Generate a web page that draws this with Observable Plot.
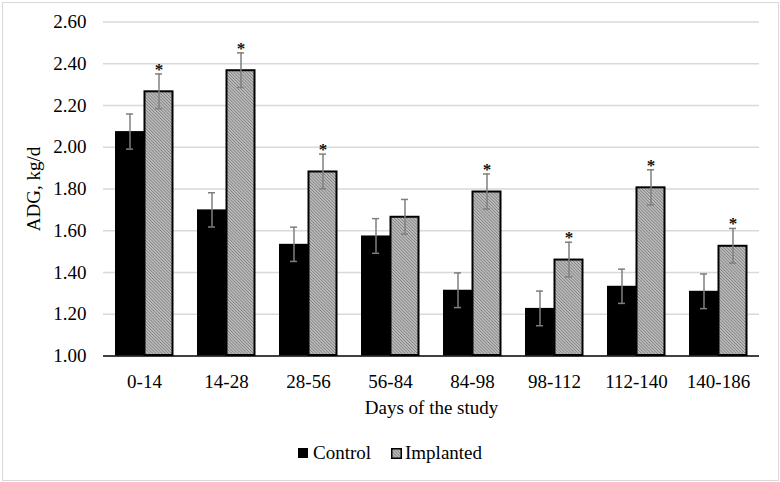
<!DOCTYPE html>
<html>
<head>
<meta charset="utf-8">
<script src="https://cdn.jsdelivr.net/npm/d3@7"></script>
<script src="https://cdn.jsdelivr.net/npm/@observablehq/plot@0.6"></script>
<style>
  html, body { margin: 0; padding: 0; background: #ffffff; }
  #wrap { position: relative; width: 780px; height: 482px; overflow: hidden; font-family: "Liberation Serif", "Times New Roman", serif; }
  #border { position: absolute; left: 2px; top: 2px; width: 775px; height: 477px; border: 1px solid #d9d9d9; pointer-events: none; }
  #legend { position: absolute; left: 0; top: 440px; width: 780px; height: 26px; display: flex; justify-content: center; align-items: center; font-size: 19px; color: #000; }
  #legend .item { display: flex; align-items: center; }
  #legend .sw { width: 10px; height: 10px; margin-right: 5px; display: block; }
</style>
</head>
<body>
<div id="wrap">
  <div id="chart"></div>
  <div id="legend">
    <div class="item"><span class="sw" style="background:#000"></span><span>Control</span></div>
    <div class="item" style="margin-left:20px">
      <svg class="sw" width="11" height="11" viewBox="0 0 11 11" style="width:11px;height:11px;margin-right:3px">
        <defs>
          <pattern id="hatchLeg" width="2.2" height="2.2" patternUnits="userSpaceOnUse" patternTransform="rotate(-45)">
            <rect width="2.2" height="2.2" fill="#c2c2c2"></rect>
            <rect width="0.9" height="2.2" fill="#808080"></rect>
          </pattern>
        </defs>
        <rect x="0.75" y="0.75" width="9.5" height="9.5" fill="url(#hatchLeg)" stroke="#000" stroke-width="1.5"></rect>
      </svg>
      <span>Implanted</span>
    </div>
  </div>
  <div id="border"></div>
</div>
<script>
const categories = ["0-14", "14-28", "28-56", "56-84", "84-98", "98-112", "112-140", "140-186"];
const series = ["Control", "Implanted"];
const control = [2.075, 1.700, 1.535, 1.575, 1.315, 1.228, 1.334, 1.310];
const implanted = [2.268, 2.369, 1.884, 1.667, 1.788, 1.462, 1.808, 1.528];
const controlSE = [0.084, 0.082, 0.082, 0.083, 0.083, 0.083, 0.082, 0.083];
const implantedSE = [0.083, 0.083, 0.083, 0.083, 0.084, 0.083, 0.084, 0.083];
const significant = [true, true, true, false, true, true, true, true];
const yTicks = [1.0, 1.2, 1.4, 1.6, 1.8, 2.0, 2.2, 2.4, 2.6];

const rows = [];
categories.forEach((c, i) => {
  rows.push({period: c, group: "Control", value: control[i], se: controlSE[i], sig: false});
  rows.push({period: c, group: "Implanted", value: implanted[i], se: implantedSE[i], sig: significant[i]});
});

const chart = Plot.plot({
  width: 780,
  height: 430,
  marginLeft: 102,
  marginRight: 21,
  marginTop: 21.5,
  marginBottom: 74.5,
  style: {fontFamily: "'Liberation Serif', 'Times New Roman', serif", fontSize: "19px", color: "#000", background: "transparent"},
  fx: {domain: categories, padding: 0, axis: "bottom", tickSize: 0, tickPadding: 18, label: "Days of the study", labelAnchor: "center", labelOffset: 58},
  x: {domain: series, paddingInner: 0, paddingOuter: 0.37, axis: null},
  y: {domain: [1, 2.6], ticks: yTicks, tickFormat: d3.format(".2f"), tickSize: 0, tickPadding: 17, label: "ADG, kg/d", labelAnchor: "center", labelOffset: 77, labelArrow: "none"},
  marks: [
    Plot.ruleY(yTicks.slice(1), {stroke: "#d9d9d9", strokeWidth: 1.3}),
    Plot.barY(rows.filter(d => d.group === "Control"), {fx: "period", x: "group", y1: 1, y2: "value", fill: "#000", inset: 0}),
    Plot.barY(rows.filter(d => d.group === "Implanted"), {fx: "period", x: "group", y1: 1, y2: "value", fill: "url(#hatch)", stroke: "#000", strokeWidth: 2, inset: 0.5}),
    Plot.ruleY([1], {stroke: "#000", strokeWidth: 1.5}),
    Plot.ruleX(rows, {fx: "period", x: "group", y1: d => d.value - d.se, y2: d => d.value + d.se, stroke: "#7f7f7f", strokeWidth: 1.5}),
    Plot.tickY(rows, {fx: "period", x: "group", y: d => d.value - d.se, stroke: "#7f7f7f", strokeWidth: 1.5, insetLeft: 11, insetRight: 11}),
    Plot.tickY(rows, {fx: "period", x: "group", y: d => d.value + d.se, stroke: "#7f7f7f", strokeWidth: 1.5, insetLeft: 11, insetRight: 11}),
    Plot.text(rows.filter(d => d.sig), {fx: "period", x: "group", y: d => d.value + d.se, text: () => "*", lineAnchor: "bottom", dy: 1, fontSize: 17, fontWeight: "bold", fill: "#111"})
  ]
});

const defs = d3.select(chart).insert("defs", ":first-child");
const pat = defs.append("pattern").attr("id", "hatch").attr("width", 2.2).attr("height", 2.2)
  .attr("patternUnits", "userSpaceOnUse").attr("patternTransform", "rotate(-45)");
pat.append("rect").attr("width", 2.2).attr("height", 2.2).attr("fill", "#c2c2c2");
pat.append("rect").attr("width", 0.9).attr("height", 2.2).attr("fill", "#808080");

document.getElementById("chart").appendChild(chart);
</script>
</body>
</html>
